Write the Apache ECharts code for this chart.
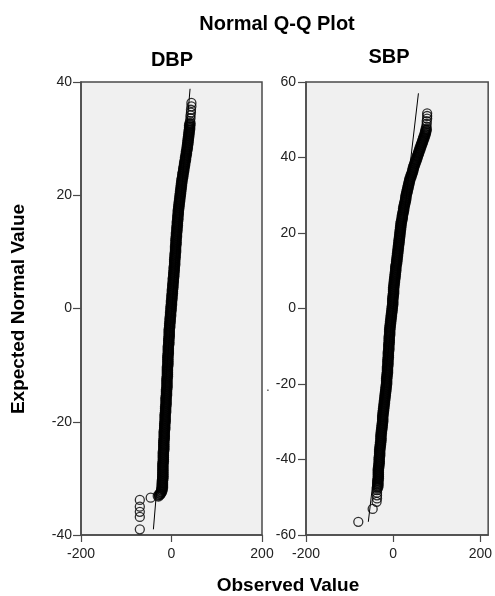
<!DOCTYPE html>
<html>
<head>
<meta charset="utf-8">
<script src="https://cdn.jsdelivr.net/npm/echarts@6/dist/echarts.min.js"></script>
<style>
html,body{margin:0;padding:0;background:#fff;}
#chart{width:495px;height:596px;}
</style>
</head>
<body>
<div id="chart"></div>
<script>
// ---- Data ----
const mainTitle = 'Normal Q-Q Plot';
const panelNames = ['DBP', 'SBP'];
const xAxisName = 'Observed Value';
const yAxisName = 'Expected Normal Value';
const xTicks = [-200, 0, 200];

// [observed value, expected normal value]
// sparse end points (individually visible circles)
const dbpTails = [
[44,36.3],[44,35.7],[43,35.1],[43,34.6],[42,34.1],[42,33.6],[41,33.1],
[-46,-33.4],[-70,-33.8],[-70,-35.0],[-70,-35.9],[-70,-36.8],[-70,-39.0]
];
// dense central run of points (overlapping circles form a solid band)
const dbpBand = [
[41,32.67],[40,32.33],[40,32.00],[40,31.67],[39,31.33],[39,31.00],[38,30.67],[38,30.33],[37,30.00],
[37,29.67],[36,29.33],[36,29.00],[35,28.67],[35,28.33],[34,28.00],[33,27.67],[33,27.33],[32,27.00],
[31,26.67],[31,26.33],[30,26.00],[29,25.67],[29,25.33],[28,25.00],[27,24.67],[27,24.33],[26,24.00],
[25,23.67],[25,23.33],[24,23.00],[23,22.67],[23,22.33],[22,22.00],[22,21.67],[21,21.33],[21,21.00],
[20,20.67],[20,20.33],[19,20.00],[19,19.67],[18,19.33],[18,19.00],[17,18.67],[17,18.33],[16,18.00],
[16,17.67],[15,17.33],[15,17.00],[15,16.67],[14,16.33],[14,16.00],[14,15.67],[13,15.33],[13,15.00],
[13,14.67],[12,14.33],[12,14.00],[12,13.67],[11,13.33],[11,13.00],[11,12.67],[10,12.33],[10,12.00],
[10,11.67],[10,11.33],[9,11.00],[9,10.67],[9,10.33],[9,10.00],[8,9.67],[8,9.33],[8,9.00],
[7,8.67],[7,8.33],[7,8.00],[7,7.67],[6,7.33],[6,7.00],[6,6.67],[5,6.33],[5,6.00],
[5,5.67],[4,5.33],[4,5.00],[4,4.67],[3,4.33],[3,4.00],[3,3.67],[2,3.33],[2,3.00],
[2,2.67],[1,2.33],[1,2.00],[1,1.67],[0,1.33],[0,1.00],[0,0.67],[-1,0.33],[-1,0.00],
[-1,-0.33],[-2,-0.67],[-2,-1.00],[-2,-1.33],[-3,-1.67],[-3,-2.00],[-3,-2.33],[-4,-2.67],[-4,-3.00],
[-4,-3.33],[-5,-3.67],[-5,-4.00],[-5,-4.33],[-5,-4.67],[-5,-5.00],[-6,-5.33],[-6,-5.67],[-6,-6.00],
[-6,-6.33],[-7,-6.67],[-7,-7.00],[-7,-7.33],[-7,-7.67],[-7,-8.00],[-8,-8.33],[-8,-8.67],[-8,-9.00],
[-8,-9.33],[-8,-9.67],[-8,-10.00],[-9,-10.33],[-9,-10.67],[-9,-11.00],[-9,-11.33],[-9,-11.67],[-9,-12.00],
[-10,-12.33],[-10,-12.67],[-10,-13.00],[-10,-13.33],[-10,-13.67],[-10,-14.00],[-11,-14.33],[-11,-14.67],[-11,-15.00],
[-11,-15.33],[-12,-15.67],[-12,-16.00],[-12,-16.33],[-12,-16.67],[-12,-17.00],[-13,-17.33],[-13,-17.67],[-13,-18.00],
[-13,-18.33],[-14,-18.67],[-14,-19.00],[-14,-19.33],[-14,-19.67],[-14,-20.00],[-15,-20.33],[-15,-20.67],[-15,-21.00],
[-15,-21.33],[-16,-21.67],[-16,-22.00],[-16,-22.33],[-16,-22.67],[-16,-23.00],[-17,-23.33],[-17,-23.67],[-17,-24.00],
[-17,-24.33],[-17,-24.67],[-17,-25.00],[-18,-25.33],[-18,-25.67],[-18,-26.00],[-18,-26.33],[-18,-26.67],[-18,-27.00],
[-19,-27.33],[-19,-27.67],[-19,-28.00],[-19,-28.33],[-19,-28.67],[-19,-29.00],[-19,-29.33],[-19,-29.67],[-19,-30.00],
[-20,-30.33],[-20,-30.67],[-20,-31.00],[-20,-31.33],[-20,-31.67],[-21,-32.00],[-22,-32.33],[-24,-32.6],[-26,-32.85],
[-29,-33.1]
];

const sbpTails = [
[78,51.7],[78,51.0],[78,50.3],[77,49.6],[77,48.9],[76,48.2],
[-37,-48.1],[-37,-48.8],[-37,-49.5],[-37,-50.3],[-38,-51.2],[-47,-53.1],[-80,-56.5]
];
const sbpBand = [
[76,47.5],[75,47.0],[74,46.5],[73,46.0],[71,45.5],[70,45.0],[68,44.5],[67,44.0],[65,43.5],[64,43.0],
[62,42.5],[61,42.0],[59,41.5],[58,41.0],[56,40.5],[55,40.0],[53,39.5],[52,39.0],[50,38.5],[49,38.0],
[47,37.5],[46,37.0],[45,36.5],[44,36.0],[42,35.5],[41,35.0],[39,34.5],[38,34.0],[37,33.5],[36,33.0],
[35,32.5],[34,32.0],[33,31.5],[32,31.0],[31,30.5],[30,30.0],[29,29.5],[29,29.0],[28,28.5],[27,28.0],
[26,27.5],[25,27.0],[24,26.5],[24,26.0],[23,25.5],[22,25.0],[21,24.5],[21,24.0],[20,23.5],[19,23.0],
[18,22.5],[18,22.0],[17,21.5],[17,21.0],[16,20.5],[16,20.0],[15,19.5],[15,19.0],[14,18.5],[14,18.0],
[13,17.5],[13,17.0],[12,16.5],[12,16.0],[11,15.5],[11,15.0],[10,14.5],[10,14.0],[9,13.5],[9,13.0],
[8,12.5],[8,12.0],[7,11.5],[6,11.0],[6,10.5],[6,10.0],[5,9.5],[5,9.0],[4,8.5],[4,8.0],
[3,7.5],[3,7.0],[2,6.5],[2,6.0],[1,5.5],[1,5.0],[1,4.5],[1,4.0],[0,3.5],[0,3.0],
[-1,2.5],[-1,2.0],[-1,1.5],[-1,1.0],[-2,0.5],[-2,0.0],[-3,-0.5],[-3,-1.0],[-4,-1.5],[-4,-2.0],
[-5,-2.5],[-5,-3.0],[-6,-3.5],[-6,-4.0],[-7,-4.5],[-7,-5.0],[-8,-5.5],[-8,-6.0],[-8,-6.5],[-8,-7.0],
[-9,-7.5],[-9,-8.0],[-9,-8.5],[-9,-9.0],[-10,-9.5],[-10,-10.0],[-10,-10.5],[-10,-11.0],[-11,-11.5],[-11,-12.0],
[-11,-12.5],[-11,-13.0],[-12,-13.5],[-12,-14.0],[-12,-14.5],[-12,-15.0],[-13,-15.5],[-13,-16.0],[-13,-16.5],[-13,-17.0],
[-14,-17.5],[-14,-18.0],[-15,-18.5],[-15,-19.0],[-15,-19.5],[-15,-20.0],[-16,-20.5],[-16,-21.0],[-17,-21.5],[-17,-22.0],
[-18,-22.5],[-18,-23.0],[-19,-23.5],[-19,-24.0],[-20,-24.5],[-20,-25.0],[-21,-25.5],[-21,-26.0],[-22,-26.5],[-22,-27.0],
[-23,-27.5],[-23,-28.0],[-24,-28.5],[-24,-29.0],[-24,-29.5],[-24,-30.0],[-25,-30.5],[-25,-31.0],[-26,-31.5],[-26,-32.0],
[-27,-32.5],[-27,-33.0],[-28,-33.5],[-28,-34.0],[-28,-34.5],[-28,-35.0],[-29,-35.5],[-29,-36.0],[-30,-36.5],[-30,-37.0],
[-31,-37.5],[-31,-38.0],[-31,-38.5],[-31,-39.0],[-32,-39.5],[-32,-40.0],[-32,-40.5],[-32,-41.0],[-33,-41.5],[-33,-42.0],
[-34,-42.5],[-34,-43.0],[-34,-43.5],[-34,-44.0],[-34,-44.5],[-34,-45.0],[-35,-45.5],[-35,-46.0],[-35,-46.5],[-35,-47.0],
[-36,-47.5]
];

// reference lines: endpoints [observed, expected]
const dbpRefLine = [[-40,-39],[41,38.8]];
const sbpRefLine = [[-57,-56.5],[58,57]];

// ---- Chart ----
const FONT = '"Liberation Sans", Arial, Helvetica, sans-serif';
const frameColor = '#4a4a4a';
const chart = echarts.init(document.getElementById('chart'), null, {renderer: 'canvas'});

function makeX(idx, max) {
  return {
    type: 'value', gridIndex: idx, min: -200, max: max, interval: 200,
    splitLine: {show: false},
    axisLine: {show: true, onZero: false, lineStyle: {color: frameColor, width: 1.5}},
    axisTick: {show: true, length: 7, customValues: xTicks, lineStyle: {color: frameColor, width: 1.2}},
    axisLabel: {color: '#222', fontSize: 14, fontFamily: FONT, margin: 12, customValues: xTicks,
      formatter: v => (xTicks.indexOf(v) >= 0 ? String(v) : '')}
  };
}
function makeY(idx, min, max, margin) {
  return {
    type: 'value', gridIndex: idx, min: min, max: max, interval: 20,
    splitLine: {show: false},
    axisLine: {show: true, onZero: false, lineStyle: {color: frameColor, width: 1.5}},
    axisTick: {show: true, length: 8, lineStyle: {color: frameColor, width: 1.2}},
    axisLabel: {color: '#222', fontSize: 14, fontFamily: FONT, margin: margin}
  };
}
const tailStyle = {color: 'rgba(0,0,0,0)', borderColor: '#000', borderWidth: 1.3};
const bandStyle = {color: 'rgba(0,0,0,0)', borderColor: '#000', borderWidth: 2.6};

function scatter(axis, data, style) {
  return {type: 'scatter', xAxisIndex: axis, yAxisIndex: axis, data: data, symbol: 'circle',
    symbolSize: 9, itemStyle: style, silent: true, z: 2};
}
function refLine(axis, data) {
  return {type: 'line', xAxisIndex: axis, yAxisIndex: axis, data: data, symbol: 'none',
    lineStyle: {color: '#000', width: 1}, silent: true, z: 3};
}
const textStyle = (text, font) => ({text: text, font: font, fill: '#000', align: 'center', verticalAlign: 'middle', textAlign: 'center', textVerticalAlign: 'middle'});

chart.setOption({
  animation: false,
  backgroundColor: '#ffffff',
  grid: [
    {left: 81, top: 82, width: 181, height: 453, show: true, backgroundColor: '#f0f0f0', borderColor: frameColor, borderWidth: 1.5},
    {left: 306, top: 82, width: 188, height: 453, show: true, backgroundColor: '#f0f0f0', borderColor: frameColor, borderWidth: 1.5}
  ],
  xAxis: [makeX(0, 200), makeX(1, 218)],
  yAxis: [makeY(0, -40, 40, 9), makeY(1, -60, 60, 10)],
  series: [
    scatter(0, dbpBand, bandStyle),
    scatter(0, dbpTails, tailStyle),
    refLine(0, dbpRefLine),
    scatter(1, sbpBand, bandStyle),
    scatter(1, sbpTails, tailStyle),
    refLine(1, sbpRefLine)
  ],
  graphic: [
    {type: 'text', x: 277, y: 24, style: textStyle(mainTitle, 'bold 20px ' + FONT)},
    {type: 'text', x: 172, y: 60, style: textStyle(panelNames[0], 'bold 20px ' + FONT)},
    {type: 'text', x: 389, y: 57, style: textStyle(panelNames[1], 'bold 20px ' + FONT)},
    {type: 'text', x: 19, y: 309, rotation: Math.PI / 2, style: textStyle(yAxisName, 'bold 19px ' + FONT)},
    {type: 'text', x: 288, y: 586, style: textStyle(xAxisName, 'bold 19px ' + FONT)},
    {type: 'text', x: 268, y: 388, style: {text: '.', font: '12px ' + FONT, fill: '#333', align: 'center', verticalAlign: 'middle', textAlign: 'center', textVerticalAlign: 'middle'}}
  ]
});
</script>
</body>
</html>
